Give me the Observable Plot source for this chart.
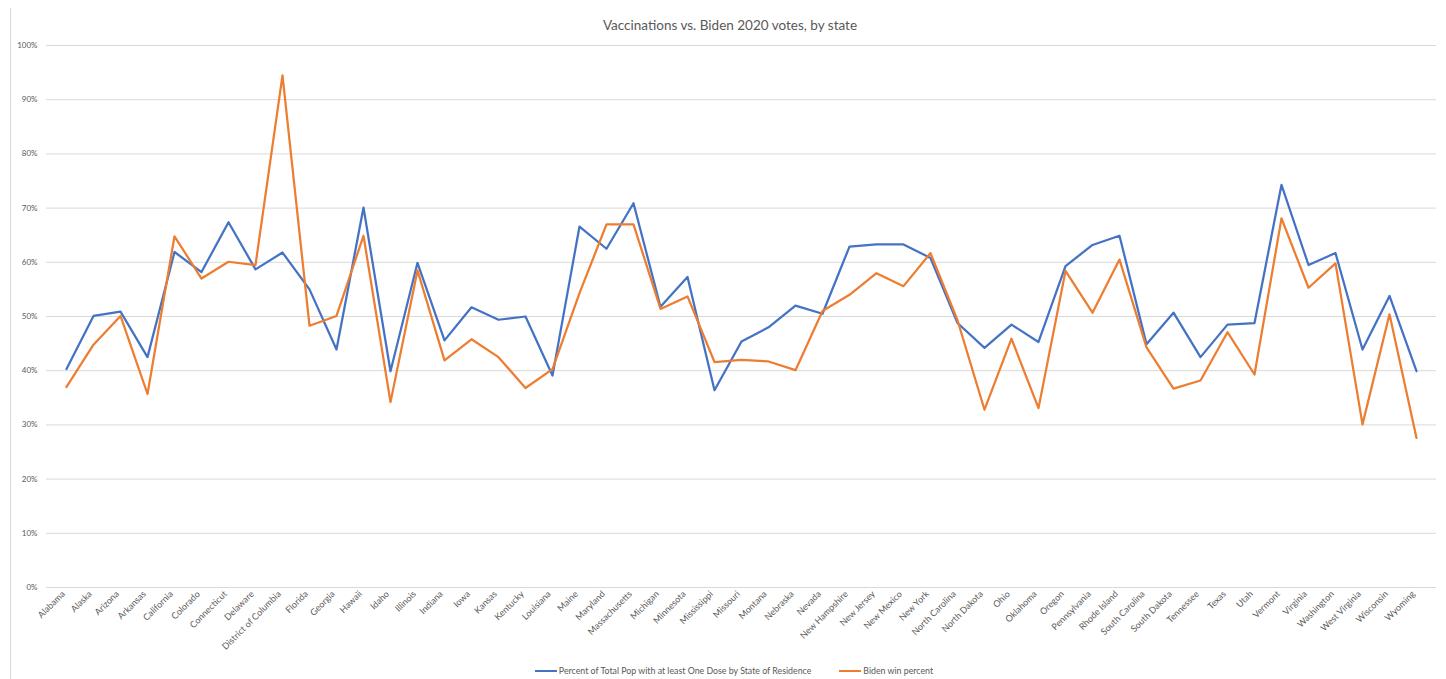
<!DOCTYPE html>
<html>
<head>
<meta charset="utf-8">
<script src="https://cdn.jsdelivr.net/npm/d3@7"></script>
<script src="https://cdn.jsdelivr.net/npm/@observablehq/plot@0.6"></script>
<style>
  html, body { margin: 0; padding: 0; background: #fff; }
  #chart { position: relative; width: 1446px; height: 679px; font-family: Lato, "Open Sans", sans-serif; color: #595959; overflow: hidden; }
  #border { position: absolute; left: 10px; top: 8px; width: 0; height: 671px; border-left: 1px solid #d9d9d9; }
  #title { height: 35px; line-height: 50px; text-align: center; font-size: 13.5px; color: #595959; padding-left: 14px; box-sizing: border-box; }
  #plot svg { display: block; }
  #legend { display: flex; justify-content: center; align-items: center; gap: 28px; font-size: 8.8px; height: 17px; padding-left: 22px; }
  .item { display: flex; align-items: center; gap: 2px; }
  .sw { width: 22px; height: 2px; display: inline-block; }
</style>
</head>
<body>
<div id="chart">
  <div id="border"></div>
  <div id="title">Vaccinations vs. Biden 2020 votes, by state</div>
  <div id="plot"></div>
  <div id="legend"></div>
</div>
<script>
const states = ["Alabama","Alaska","Arizona","Arkansas","California","Colorado","Connecticut","Delaware","District of Columbia","Florida","Georgia","Hawaii","Idaho","Illinois","Indiana","Iowa","Kansas","Kentucky","Louisiana","Maine","Maryland","Massachusetts","Michigan","Minnesota","Mississippi","Missouri","Montana","Nebraska","Nevada","New Hampshire","New Jersey","New Mexico","New York","North Carolina","North Dakota","Ohio","Oklahoma","Oregon","Pennsylvania","Rhode Island","South Carolina","South Dakota","Tennessee","Texas","Utah","Vermont","Virginia","Washington","West Virginia","Wisconsin","Wyoming"];

const vaccinatedPct = [40.3,50.1,50.9,42.5,61.9,58.2,67.4,58.7,61.8,55.0,43.9,70.1,39.9,59.9,45.6,51.7,49.4,50.0,39.1,66.6,62.5,70.9,51.8,57.3,36.4,45.4,48.0,52.0,50.5,62.9,63.3,63.3,60.8,48.8,44.2,48.5,45.3,59.3,63.2,64.9,44.9,50.7,42.5,48.5,48.8,74.3,59.5,61.7,43.9,53.8,39.9];

const bidenPct = [37.0,44.8,50.1,35.7,64.8,57.0,60.1,59.5,94.5,48.3,50.1,64.9,34.2,58.5,41.9,45.8,42.5,36.8,40.3,54.3,67.0,67.0,51.4,53.7,41.6,42.0,41.7,40.1,51.0,54.0,58.0,55.6,61.7,49.3,32.8,45.9,33.1,58.4,50.7,60.5,44.3,36.7,38.2,47.1,39.3,68.1,55.3,59.8,30.1,50.4,27.6];

const seriesNames = ["Percent of Total Pop with at least One Dose by State of Residence", "Biden win percent"];
const seriesColors = ["#4472C4", "#ED7D31"];
const yTicks = [0,10,20,30,40,50,60,70,80,90,100];

const data = [];
states.forEach((s, i) => {
  data.push({state: s, value: vaccinatedPct[i], series: seriesNames[0]});
  data.push({state: s, value: bidenPct[i], series: seriesNames[1]});
});

const chart = Plot.plot({
  width: 1446,
  height: 627,
  marginLeft: 46,
  marginRight: 10,
  marginTop: 10,
  marginBottom: 75,
  style: {fontFamily: "Lato, 'Open Sans', sans-serif", fontSize: "8px", color: "#595959", background: "transparent"},
  x: {type: "point", domain: states, padding: 0.5, label: null},
  y: {domain: [0, 100], label: null},
  color: {domain: seriesNames, range: seriesColors},
  marks: [
    Plot.gridY(yTicks, {stroke: "#d9d9d9", strokeOpacity: 1, strokeWidth: 1}),
    Plot.axisY(yTicks, {tickSize: 0, tickPadding: 9, tickFormat: d => d + "%", label: null, fill: "#595959"}),
    Plot.axisX({tickSize: 0, tickPadding: 5, tickRotate: -45, label: null, fill: "#595959", fontSize: 9, dx: -3}),
    Plot.line(data, {x: "state", y: "value", stroke: "series", z: "series", strokeWidth: 2.25, curve: "linear", strokeLinejoin: "round"})
  ]
});
document.getElementById("plot").appendChild(chart);

const legend = document.getElementById("legend");
seriesNames.forEach((n, i) => {
  const item = document.createElement("div");
  item.className = "item";
  const sw = document.createElement("span");
  sw.className = "sw";
  sw.style.background = seriesColors[i];
  const t = document.createElement("span");
  t.textContent = n;
  item.appendChild(sw);
  item.appendChild(t);
  legend.appendChild(item);
});
</script>
</body>
</html>
